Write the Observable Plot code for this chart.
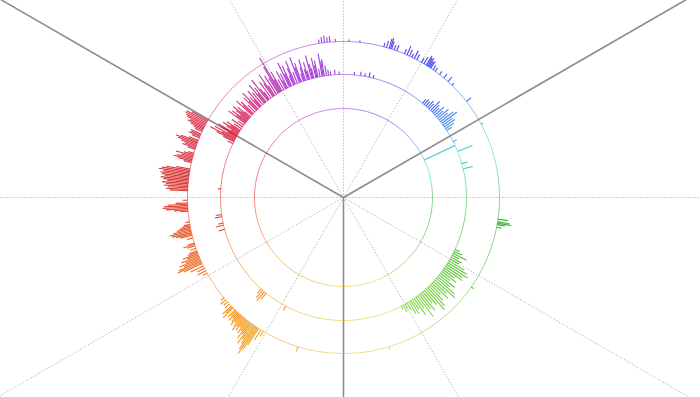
<!DOCTYPE html>
<html><head><meta charset="utf-8">
<script src="https://cdn.jsdelivr.net/npm/d3@7"></script>
<script src="https://cdn.jsdelivr.net/npm/@observablehq/plot@0.6"></script>
<style>html,body{margin:0;padding:0;background:#fff;overflow:hidden}</style>
</head><body><div id="chart"></div>
<script>
// Angles in degrees, clockwise from 12 o'clock; scores = spike height
const gridAngles = [0,30,60,90,120,150,180,210,240,270,300,330];
const sectorAngles = [60,180,300];
const tracks = ["inner","middle","outer"];

const innerSpikes = [[65,34]];

const middleSpikes = [
  [5,3],[8,4],[10,3],[12,5],[14,3],
  [40,5],[41,7],[42,6],[43,9],[44,7],[45,13],[46,10],[47,8],[48,12],[49,9],[50,14],[51,11],[52,16],[53,19],[54,12],[55,13],[56,10],[57,6],
  [63,4],[68,16],[74,6],[76.5,10],
  [115,5],[116,9],[117,15],[118,8],[119,12],[120,10],[121,18],[122,22],[123,25],[124,20],[125,22],[126,14],[127,18],[128,12],[129,20],[130,16],[131,24],[132,27],[133,18],[134,22],[135,14],[136,20],[137,25],[138,28],[139,19],[140,15],[141,22],[142,18],[143,26],[144,14],[145,20],[146,12],[147,16],[148,14],[149,8],[150,5],
  [151,8],[152,4],[208,5],
  [219,8],[220,12],[221,10],[222,6],
  [255,6],[257,8],[258,5],[261,7],[262,6],[274,3],
  [296,6],[297,12],[297.5,20],[298,28],[298.5,15],[299,24],[299.5,10],[300,18],[300.5,22],[301,8],[301.5,14],[302,19],[302.5,11],[303,16],[304,9],[305,13],[306,7],[307,21],[307.5,12],[308,18],[308.5,9],[309,15],[309.5,20],[310,11],[310.5,16],[311,8],[312,21],[312.5,13],[313,17],[314,10],[315,18],[315.5,12],[316,22],[317,14],[317.5,9],[318,20],[319,16],[320,24],[320.5,12],[321,18],[322,26],[322.5,14],[323,9],[324,20],[325,16],[325.5,26],[326,12],[327,22],[328,18],[328.5,30],[329,40],[329.5,14],[330,22],
  [331,12],[332,20],[332.5,9],[333,16],[334,27],[334.5,14],[335,22],[336,10],[336.5,18],[337,25],[338,12],[339,27],[339.5,16],[340,20],[341,8],[341.5,14],[342,22],[343,11],[343.5,18],[344,9],[345,24],[345.5,15],[346,10],[347,20],[347.5,12],[348,17],[349,8],[350,23],[350.5,15],[351,17],[352,10],[353,6],[354,4],[356,5],[358,3]
];

const outerSpikes = [
  [351,4],[352,6],[353,7],[354,5],[355,6],[357,3],[2,2],[6,2],
  [15,4],[16,7],[17,10],[17.5,11],[18,8],[19,5],[20,6],[23,5],[24,10],[25,7],[26,4],[27,9],[28,6],[30,5],[31,8],[32,11],[32.5,9],[33,10],[33.5,7],[34,8],[35,5],[36,4],[38,4],[40,5],[42,6],[44,3],[52,6],
  [62,2],[98,10],[99,12],[99.5,14],[100,8],[101,5],[125,3],
  [163,3],[197,5],
  [211,6],[212,12],[213,20],[213.5,26],[214,32],[214.5,28],[215,22],[215.5,18],[216,24],[216.5,14],[217,20],[217.5,12],[218,16],[218.5,10],[219,15],[219.5,11],[220,17],[220.5,13],[221,9],[221.5,14],[222,11],[222.5,8],[223,12],[223.5,7],[224,10],[225,14],[225.5,9],[226,12],[227,6],[228,5],[229,7],[230,4],
  [241,5],[242,9],[243,8],[244,14],[245,20],[245.5,26],[246,24],[246.5,18],[247,22],[247.5,15],[248,19],[248.5,12],[249,16],[249.5,10],[250,8],[251,6],
  [252,8],[252.5,12],[253,7],
  [255,6],[256,12],[256.5,16],[257,20],[257.5,22],[258,18],[258.5,14],[259,11],[259.5,8],[260,6],[261,4],
  [265,8],[265.5,14],[266,22],[266.5,25],[267,24],[267.5,20],[268,12],[269,5],
  [272.5,18],[273,22],[273.5,20],[274,24],[274.5,22],[275,26],[275.5,21],[276,25],[276.5,28],[277,24],[277.5,27],[278,29],[278.5,26],[279,31],[279.5,28],[280,24],[280.5,14],
  [283,8],[283.5,14],[284,19],[284.5,16],[285,12],[285.5,18],[286,10],[286.5,6],
  [288,8],[288.5,14],[289,12],[289.5,16],[290,20],[290.5,23],[291,18],[291.5,10],
  [292.5,8],[293,12],[293.5,10],[294,11],[295,8],[295.5,10],[296,14],[296.5,18],[297,16],[297.5,20],[298,22],[298.5,24],[299,23],[299.5,18]
];

// layout / style
const trackRadius = {inner: 89, middle: 123, outer: 156};
const spikeSets = {inner: innerSpikes, middle: middleSpikes, outer: outerSpikes};
const hueStops  = [0, 30, 50, 70, 100, 135, 150, 160, 185, 225, 255, 275, 300, 315, 335, 360];
const hueColors = ["#8e2ce0","#2a2af0","#2f6cf0","#2fd8be","#22a818","#5cc82a","#7ed030","#d8d020","#e6c020","#ee8a08","#e64c10","#d41a1a","#d81e3c","#cc2470","#a622d0","#8e2ce0"];

const rad = d => d * Math.PI / 180;
const polar = (a, r) => [r * Math.sin(rad(a)), r * Math.cos(rad(a))];

const spikes = tracks.flatMap(t => spikeSets[t].map(([a, s]) => {
  const r0 = trackRadius[t];
  const [x1, y1] = polar(a, r0), [x2, y2] = polar(a, r0 + s);
  return {track: t, a, x1, y1, x2, y2};
}));

const ringSegs = tracks.flatMap(t => d3.range(0, 360, 1).map(a => {
  const r = trackRadius[t];
  const [x1, y1] = polar(a, r), [x2, y2] = polar(a + 1, r);
  return {track: t, a: a + 0.5, x1, y1, x2, y2};
}));

const rays = arr => arr.map(a => { const [x2, y2] = polar(a, 900); return {a, x1: 0, y1: 0, x2, y2}; });

const chart = Plot.plot({
  width: 700, height: 397,
  margin: 0,
  x: {domain: [-343, 357], axis: null},
  y: {domain: [-200, 197], axis: null},
  color: {type: "linear", domain: hueStops, range: hueColors, interpolate: "rgb"},
  marks: [
    Plot.link(rays(gridAngles), {x1: "x1", y1: "y1", x2: "x2", y2: "y2", stroke: "#a0a0a0", strokeWidth: 1, strokeDasharray: "1,2", clip: "frame"}),
    Plot.link(rays(sectorAngles), {x1: "x1", y1: "y1", x2: "x2", y2: "y2", stroke: "#8c8c8c", strokeWidth: 1.6, clip: "frame"}),
    Plot.link(ringSegs, {x1: "x1", y1: "y1", x2: "x2", y2: "y2", stroke: "a", strokeWidth: 1, strokeOpacity: 0.55}),
    Plot.link(spikes, {x1: "x1", y1: "y1", x2: "x2", y2: "y2", stroke: "a", strokeWidth: 1.1, strokeOpacity: 0.9})
  ]
});
document.getElementById("chart").append(chart);
</script>
</body></html>
